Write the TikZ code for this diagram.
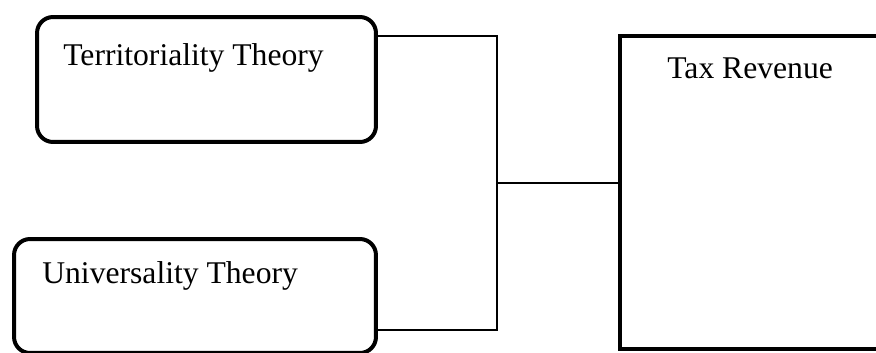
\documentclass[tikz,border=0pt]{standalone}
\usepackage{fontspec}
\setmainfont{Liberation Serif}
\begin{document}
\begin{tikzpicture}[x=0.02cm,y=-0.02cm]
\tikzstyle{theory}=[draw,line width=0.08cm,rounded corners=0.32cm,outer sep=0pt,inner sep=0pt];
\tikzstyle{outcome}=[draw,line width=0.08cm,outer sep=0pt,inner sep=0pt];
\tikzstyle{caption}=[anchor=base west,inner sep=0pt,font=\fontsize{18}{22}\selectfont];
\useasboundingbox (0,0) rectangle (876,352);
\begin{scope}
\clip (0,0) rectangle (876,352);
\node[theory,minimum width=6.78cm,minimum height=2.5cm] (territory) at (206.5,79.5) {};
\node[theory,minimum width=7.24cm,minimum height=2.28cm] (universality) at (195,296) {};
\node[outcome,minimum width=5.2cm,minimum height=6.26cm] (revenue) at (750,192.5) {};
\end{scope}
\node[caption] (t1) at (63,65) {Territoriality Theory};
\node[caption] (t2) at (42,283) {Universality Theory};
\node[caption] (t3) at (667,78) {Tax Revenue};
\coordinate (top) at (497,36);
\coordinate (bottom) at (497,330);
\coordinate (joint) at (497,183);
\draw[line width=0.026cm]
(territory.east |- top) -- (top) -- (bottom) -- (universality.east |- bottom)
;
\draw[line width=0.04cm] (joint) -- (revenue.west |- joint);
\end{tikzpicture}
\end{document}
